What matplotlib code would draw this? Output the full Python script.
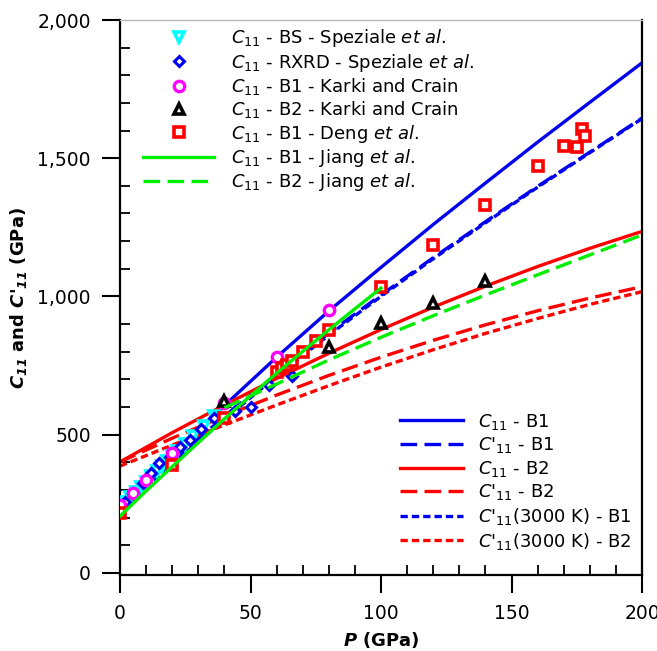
import numpy as np
import matplotlib.pyplot as plt
from matplotlib.ticker import MultipleLocator, StrMethodFormatter

# pressure grid for the model curves (GPa)
p_grid = [0, 20, 40, 60, 80, 100, 120, 140, 160, 180, 200]
c11_b1 = [239, 425, 605, 780, 947, 1105, 1260, 1410, 1558, 1702, 1845]
c11p_b1 = [239, 405, 565, 720, 867, 1005, 1140, 1270, 1398, 1522, 1645]
c11p_b1_3000 = [225, 393, 555, 712, 860, 1000, 1136, 1266, 1395, 1520, 1643]
c11_b2 = [401, 507, 607, 703, 794, 880, 961, 1037, 1108, 1174, 1235]
c11p_b2 = [401, 487, 567, 643, 714, 780, 841, 897, 948, 994, 1035]
c11p_b2_3000 = [386, 462, 535, 607, 677, 744, 807, 866, 920, 971, 1017]

# Jiang et al.
jiang_b1_p = [0, 10, 20, 30, 40, 50, 60, 70, 80, 90, 100]
jiang_b1_c = [205, 296, 384, 471, 557, 640, 722, 801, 879, 955, 1030]
jiang_b2_p = [40, 60, 80, 100, 120, 140, 160, 180, 200]
jiang_b2_c = [597, 683, 770, 852, 930, 1005, 1078, 1150, 1222]

# Speziale et al.
bs_p = [0, 2, 4, 6, 8, 10, 12, 14, 16, 18, 20, 22, 25, 28, 32, 36]
bs_c = [240, 257, 276, 294, 312, 330, 349, 367, 386, 404, 422, 440, 467, 494, 530, 566]
rxrd_p = [2, 5, 9, 12, 15, 19, 23, 27, 31, 36, 44, 50, 57, 66]
rxrd_c = [255, 289, 325, 360, 398, 420, 455, 481, 520, 560, 585, 600, 680, 712]

# Karki and Crain
karki_b1_p = [0, 5, 10, 20, 40, 60, 80]
karki_b1_c = [245, 289, 336, 434, 615, 781, 951]
karki_b2_p = [40, 80, 100, 120, 140]
karki_b2_c = [622, 818, 902, 976, 1054]

# Deng et al.
deng_p = [0, 20, 40, 60, 62, 64, 66, 70, 75, 80, 100, 120, 140, 160, 170, 175, 177, 178]
deng_c = [217, 391, 561, 725, 740, 752, 765, 800, 840, 879, 1035, 1186, 1331, 1472,
          1544, 1541, 1606, 1580]

fig = plt.figure(figsize=(6.57, 6.51), dpi=100)
ax = fig.add_axes([120 / 657, 76 / 651, 522 / 657, 555 / 651])

lw = 2.4
long_dash = (0, (5, 2.2))
short_dash = (0, (2.2, 1.2))

h_c_b1, = ax.plot(p_grid, c11_b1, color='#0000ee', lw=lw)
h_cp_b1, = ax.plot(p_grid, c11p_b1, color='#0000ee', lw=lw, ls=long_dash)
h_c_b2, = ax.plot(p_grid, c11_b2, color='#ff0000', lw=lw)
h_cp_b2, = ax.plot(p_grid, c11p_b2, color='#ff0000', lw=lw, ls=long_dash)
h_t_b1, = ax.plot(p_grid, c11p_b1_3000, color='#0000ee', lw=lw, ls=short_dash)
h_t_b2, = ax.plot(p_grid, c11p_b2_3000, color='#ff0000', lw=lw, ls=short_dash)

mk = dict(ls='none', markerfacecolor='white', zorder=3)
h_bs, = ax.plot(bs_p, bs_c, marker='v', ms=7.5, mew=2.6, color='cyan', **mk)
h_rx, = ax.plot(rxrd_p, rxrd_c, marker='D', ms=5.5, mew=2.2, color='#0000ee', **mk)
h_kb1, = ax.plot(karki_b1_p, karki_b1_c, marker='o', ms=7.5, mew=2.4, color='magenta', **mk)
h_kb2, = ax.plot(karki_b2_p, karki_b2_c, marker='^', ms=7.5, mew=2.6, color='black', **mk)
h_deng, = ax.plot(deng_p, deng_c, marker='s', ms=7.5, mew=2.6, color='red', **mk)

h_jb1, = ax.plot(jiang_b1_p, jiang_b1_c, color='#00ee00', lw=lw, zorder=4)
h_jb2, = ax.plot(jiang_b2_p, jiang_b2_c, color='#00ee00', lw=lw, ls=long_dash, zorder=4)

ax.set_xlim(0, 200)
ax.set_ylim(-8, 2000)

ax.xaxis.set_major_locator(MultipleLocator(50))
ax.xaxis.set_minor_locator(MultipleLocator(10))
ax.yaxis.set_major_locator(MultipleLocator(500))
ax.yaxis.set_minor_locator(MultipleLocator(100))
ax.yaxis.set_major_formatter(StrMethodFormatter('{x:,.0f}'))

ax.tick_params(which='major', direction='out', length=13, width=1.5,
               labelsize=13.5, pad=8, top=False, right=False)
ax.tick_params(which='minor', direction='in', length=7, width=1.3,
               top=False, right=False)

for side in ['left', 'bottom', 'right']:
    ax.spines[side].set_linewidth(1.6)
ax.spines['top'].set_color('#bbbbbb')
ax.spines['top'].set_linewidth(1.0)

ax.set_xlabel(r'$\mathbfit{P}$ (GPa)', fontsize=13, fontweight='bold', labelpad=5)
ax.set_ylabel(r"$\mathbfit{C}_{\mathbfit{11}}$ and $\mathbfit{C}$'$_{\mathbfit{11}}$ (GPa)",
              fontsize=13, fontweight='bold', labelpad=6)

C = r'$\mathit{C}_{\mathit{11}}$'
Cp = r"$\mathit{C}$'$_{\mathit{11}}$"
etal = r'$\mathit{et\ al.}$'

leg1 = ax.legend(
    [h_bs, h_rx, h_kb1, h_kb2, h_deng, h_jb1, h_jb2],
    [C + ' - BS - Speziale ' + etal,
     C + ' - RXRD - Speziale ' + etal,
     C + ' - B1 - Karki and Crain',
     C + ' - B2 - Karki and Crain',
     C + ' - B1 - Deng ' + etal,
     C + ' - B1 - Jiang ' + etal,
     C + ' - B2 - Jiang ' + etal],
    loc='upper left', bbox_to_anchor=(0.031, 1.0), frameon=False, fontsize=13,
    handlelength=3.9, handletextpad=0.95, labelspacing=0.13, borderaxespad=0)
ax.add_artist(leg1)

ax.legend(
    [h_c_b1, h_cp_b1, h_c_b2, h_cp_b2, h_t_b1, h_t_b2],
    [C + ' - B1', Cp + ' - B1', C + ' - B2', Cp + ' - B2',
     Cp + '(3000 K) - B1', Cp + '(3000 K) - B2'],
    loc='lower right', bbox_to_anchor=(0.994, 0.029), frameon=False, fontsize=13,
    handlelength=3.5, handletextpad=0.83, labelspacing=0.2, borderaxespad=0)

fig.savefig('out.png', dpi=100)
